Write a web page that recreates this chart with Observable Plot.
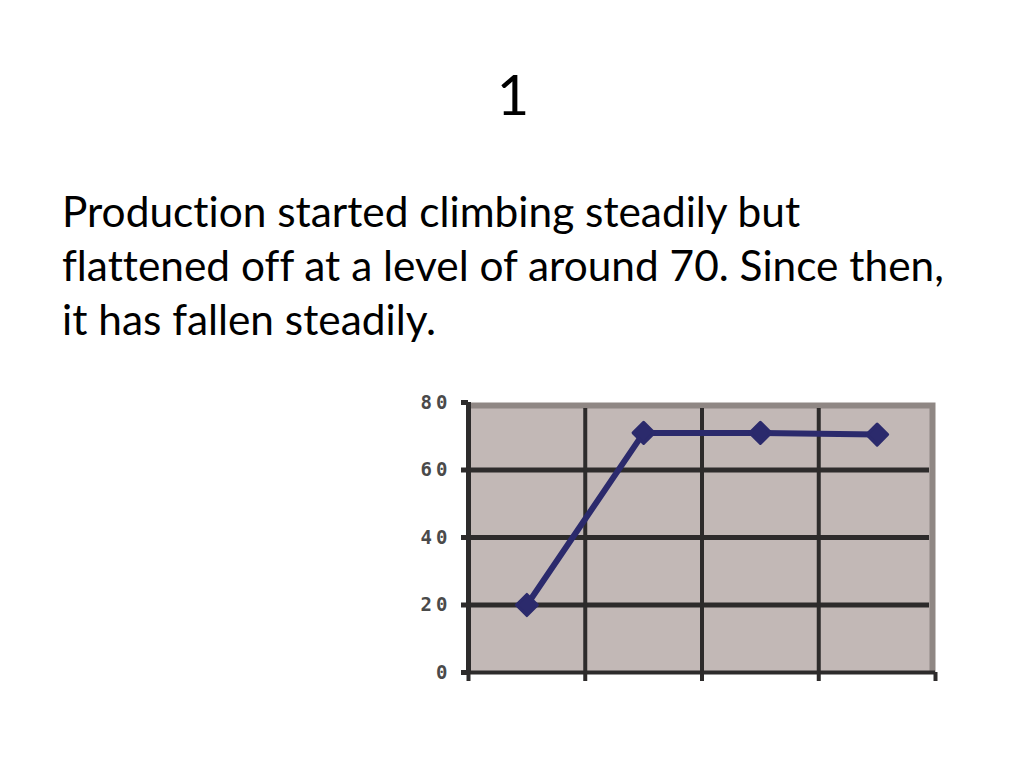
<!DOCTYPE html>
<html>
<head>
<meta charset="utf-8">
<script src="https://cdn.jsdelivr.net/npm/d3@7"></script>
<script src="https://cdn.jsdelivr.net/npm/@observablehq/plot@0.6"></script>
<style>
  html, body { margin: 0; padding: 0; background: #fff; }
  #page { position: relative; width: 1024px; height: 768px; overflow: hidden; font-family: Lato, "Open Sans", sans-serif; color: #000; font-variant-ligatures: none; }
  #title { position: absolute; left: 0; width: 1026px; top: 60px; text-align: center; font-size: 56px; line-height: 1.2; }
  #body { position: absolute; left: 62px; top: 184px; width: 960px; font-size: 42.4px; line-height: 54px; white-space: nowrap; }
  #chart { position: absolute; left: 400px; top: 385px; }
  #chart svg text { letter-spacing: 4px; font-size: 19px !important; }
</style>
</head>
<body>
<div id="page">
  <div id="title">1</div>
  <div id="body">Production started climbing steadily but<br>flattened off at a level of around 70. Since then,<br>it has fallen steadily.</div>
  <div id="chart"></div>
</div>
<script>
// Data
const periods = [1, 2, 3, 4];
const production = [20, 71, 71, 70.5];
const yTicks = [0, 20, 40, 60, 80];
const xBoundaries = [0.5, 1.5, 2.5, 3.5, 4.5];

const data = periods.map((p, i) => ({period: p, value: production[i]}));

const gridColor = "#2d2b2b";
const lineColor = "#2b2a6c";

const chart = Plot.plot({
  width: 560,
  height: 310,
  marginLeft: 68,
  marginRight: 25,
  marginTop: 17,
  marginBottom: 23,
  style: {fontFamily: "'DejaVu Sans Mono', monospace", background: "transparent", overflow: "visible"},
  x: {domain: [0.5, 4.5], axis: null},
  y: {domain: [0, 80], axis: null},
  marks: [
    Plot.frame({fill: "#8f8784", stroke: "none"}),
    Plot.frame({fill: "#c2b8b6", stroke: "none", insetTop: 6, insetRight: 6}),
    Plot.ruleY(yTicks.filter(t => t > 0 && t < 80), {stroke: gridColor, strokeWidth: 5, insetRight: 6}),
    Plot.ruleX(xBoundaries.filter(b => b > 0.5 && b < 4.5), {stroke: gridColor, strokeWidth: 4, insetTop: 6}),
    Plot.ruleY([0], {stroke: gridColor, strokeWidth: 4}),
    Plot.ruleX([0.5], {stroke: gridColor, strokeWidth: 5}),
    Plot.axisX({ticks: xBoundaries, tickSize: 9, tickFormat: () => "", stroke: gridColor, strokeWidth: 4, label: null}),
    Plot.axisY({ticks: yTicks, tickSize: 7, tickPadding: 10, stroke: gridColor, strokeWidth: 5, fill: "#4a4a4a", fontSize: 19, fontWeight: "bold", label: null}),
    Plot.line(data, {x: "period", y: "value", stroke: lineColor, strokeWidth: 6}),
    Plot.dot(data, {x: "period", y: "value", symbol: "diamond2", r: 9.5, fill: lineColor, stroke: lineColor, strokeWidth: 3, strokeLinejoin: "round"})
  ]
});
document.getElementById("chart").appendChild(chart);
</script>
</body>
</html>
